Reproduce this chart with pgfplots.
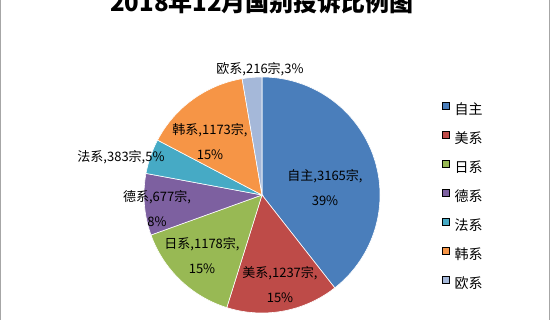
\documentclass[border=0pt]{standalone}
\usepackage{fontspec}
\setmainfont{Noto Sans CJK SC}
\usepackage{pgfplots}
\usepackage{pgfplotstable}
\pgfplotsset{compat=1.18}
\definecolor{c0}{HTML}{4A7EBB}
\definecolor{c1}{HTML}{BE4B48}
\definecolor{c2}{HTML}{98B954}
\definecolor{c3}{HTML}{7D60A0}
\definecolor{c4}{HTML}{46AAC5}
\definecolor{c5}{HTML}{F69546}
\definecolor{c6}{HTML}{A5B8D9}
\pgfplotstableread{
name value
自主 3165
美系 1237
日系 1178
德系 677
法系 383
韩系 1173
欧系 216
}\piedata
\begin{document}
\begin{tikzpicture}[x=1pt,y=1pt]
\useasboundingbox (0,0) rectangle (550,320);
\clip (0,0) rectangle (550,320);
\fill[white] (0,0) rectangle (550,320);
% cumulative angles from the data
\gdef\total{0}
\foreach \i in {0,...,6}{\pgfplotstablegetelem{\i}{value}\of\piedata
  \pgfmathsetmacro\tmp{\total+\pgfplotsretval}\xdef\total{\tmp}}
\gdef\cum{90}
\foreach \i in {0,...,6}{\pgfplotstablegetelem{\i}{value}\of\piedata
  \pgfmathsetmacro\tmp{\cum-360*(\pgfplotsretval/\total)}
  \expandafter\xdef\csname s\i\endcsname{\cum}
  \expandafter\xdef\csname e\i\endcsname{\tmp}
  \xdef\cum{\tmp}}
\begin{axis}[at={(262pt,125pt)}, anchor=center,
  x=118pt, y=118pt, xmin=-1, xmax=1, ymin=-1, ymax=1,
  hide axis, clip=false,
  legend image code/.code={\fill[#1] (0pt,1.6pt) rectangle (7pt,8.6pt);},
  legend cell align=left,
  legend style={draw=none, fill=none, inner sep=0pt, outer sep=0pt,
    at={(1.2614,0.895)}, anchor=north west,
    font=\fontsize{14}{14}\selectfont,
    nodes={inner sep=0pt, text height=10.5pt, text depth=2.5pt},
    row sep=13.7pt,
    /tikz/every odd column/.style={column sep=5.6pt}},
  ]
\pgfplotsinvokeforeach{0,...,6}{
  \fill[c#1, draw=white, line width=0.6pt] (axis cs:0,0) -- ++(\csname s#1\endcsname:118pt)
    arc[start angle=\csname s#1\endcsname, end angle=\csname e#1\endcsname, radius=118pt] -- cycle;
}
\addlegendimage{fill=c0}\addlegendentry{自主}
\addlegendimage{fill=c1}\addlegendentry{美系}
\addlegendimage{fill=c2}\addlegendentry{日系}
\addlegendimage{fill=c3}\addlegendentry{德系}
\addlegendimage{fill=c4}\addlegendentry{法系}
\addlegendimage{fill=c5}\addlegendentry{韩系}
\addlegendimage{fill=c6}\addlegendentry{欧系}
\end{axis}
\begin{scope}[every node/.style={align=center, font=\fontsize{13}{25}\selectfont, inner sep=0pt}]
\node at (325,132.5) {自主,3165宗,\\39\%};
\node at (280,35) {美系,1237宗,\\15\%};
\node at (202,64.5) {日系,1178宗,\\15\%};
\node at (157,111.5) {德系,677宗,\\8\%};
\node at (121,163) {法系,383宗,5\%};
\node at (210,178) {韩系,1173宗,\\15\%};
\node at (260,251) {欧系,216宗,3\%};
\end{scope}
\node[font=\bfseries\fontsize{24}{24}\selectfont, anchor=base, inner sep=0pt] at (262,308) {2018年12月国别投诉比例图};
\draw[black!35, line width=1pt] (0.5,0) -- (0.5,320);
\draw[black!35, line width=1pt] (549.3,0) -- (549.3,320);
\end{tikzpicture}
\end{document}
